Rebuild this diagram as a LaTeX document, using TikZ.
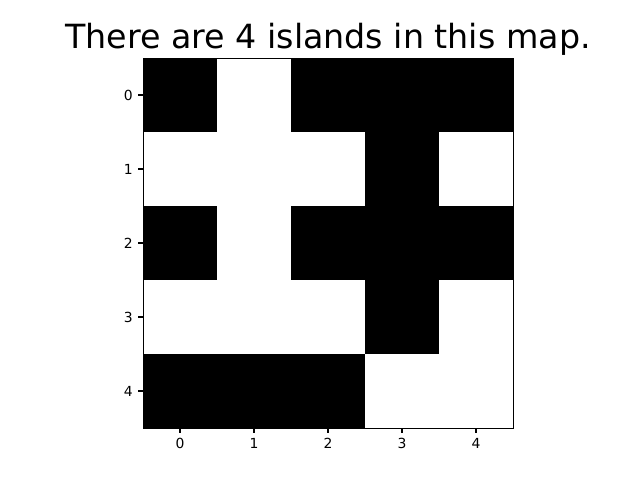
\documentclass[tikz,border=0pt]{standalone}
\usepackage{fontspec}
\setmainfont{DejaVu Sans}
\begin{document}
\begin{tikzpicture}[x=1pt,y=-1pt,
  cellb/.style={fill=black,draw=none},
  tickline/.style={line width=1.1pt,black},
  ticklab/.style={inner sep=0pt,font=\fontsize{13.9}{16}\selectfont},
  frameline/.style={line width=1.1pt,black}]
\useasboundingbox (0,0) rectangle (640,480);
\fill[white] (0,0) rectangle (640,480);
% grid: rows top to bottom
\def\cell#1#2{\fill[black] ({143+74*#1},{58+74*#2}) rectangle ++(74,74);}
% row 0
\cell{0}{0}\cell{2}{0}\cell{3}{0}\cell{4}{0}
% row 1
\cell{3}{1}
% row 2
\cell{0}{2}\cell{2}{2}\cell{3}{2}\cell{4}{2}
% row 3
\cell{3}{3}
% row 4
\cell{0}{4}\cell{1}{4}\cell{2}{4}
\node[draw=black,line width=1.1pt,minimum width=370pt,minimum height=370pt,inner sep=0pt,anchor=north west] (ax) at (143,58) {};
\foreach \i in {0,...,4}{
  \coordinate (xt\i) at ({180+74*\i},428);
  \draw[tickline] (xt\i) -- ++(0,4.9) node[ticklab,anchor=north,yshift=-4.9pt] (xl\i) {\i};
  \coordinate (yt\i) at (143,{95+74*\i});
  \draw[tickline] (yt\i) -- ++(-4.9,0) node[ticklab,anchor=east,xshift=-4.9pt] (yl\i) {\i};
}
\node[inner sep=0pt,anchor=base,font=\fontsize{33.3}{40}\selectfont] (title) at (328,48) {There are 4 islands in this map.};
\end{tikzpicture}
\end{document}
